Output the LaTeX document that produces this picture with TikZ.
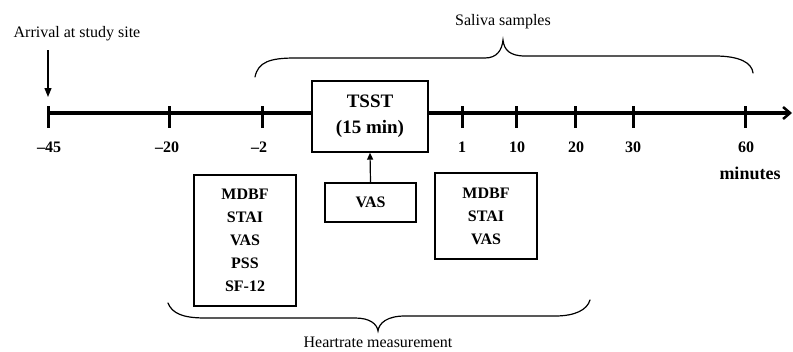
\documentclass[tikz,border=0pt]{standalone}
\usepackage{fontspec}
\setmainfont{Liberation Serif}
\usetikzlibrary{arrows.meta}
\begin{document}
\begin{tikzpicture}[x=1pt,y=-1pt,
  lbl/.style={font=\fontsize{16}{19}\selectfont\bfseries,inner sep=0pt},
  txt/.style={font=\fontsize{16}{19}\selectfont,inner sep=0pt},
  mbox/.style={draw,line width=1.4pt,fill=white,align=center,inner sep=0pt,
    font=\fontsize{16}{23}\selectfont\bfseries},
  tick/.style={line width=3pt},
  axis/.style={line width=4pt},
  brace/.style={line width=1.2pt,line cap=round}
]
\useasboundingbox (0,0) rectangle (793,351);
% axis
\coordinate (a0) at (48,113);
\coordinate (aend) at (792,113);
\node[mbox,minimum width=116pt,minimum height=71pt,
  font=\fontsize{19}{26}\selectfont\bfseries] (tsst) at (370,116.5) {TSST\\(15 min)};
\draw[axis] (a0) -- (tsst.west |- a0);
\draw[axis,-{Straight Barb[length=7pt,width=12pt,line width=2.5pt]}] (tsst.east |- a0) -- (aend);
% ticks
\foreach \x/\n in {48/m45,169/m20,262/m2,462/p1,516/p10,575/p20,633/p30,745/p60}{
  \draw[tick] (\x,106) -- (\x,128);
}
\node[lbl] (lm45) at (49,147) {–45};
\node[lbl] (lm20) at (167,147) {–20};
\node[lbl] (lm2) at (259,147) {–2};
\node[lbl] (lp1) at (462,147) {1};
\node[lbl] (lp10) at (517,147) {10};
\node[lbl] (lp20) at (576,147) {20};
\node[lbl] (lp30) at (633,147) {30};
\node[lbl] (lp60) at (746,147) {60};
\node[lbl,font=\fontsize{18}{20}\selectfont\bfseries] (min) at (750,173) {minutes};
% arrival
\node[txt] (arr) at (77,34) {Arrival at study site};
\coordinate (arrend) at (48,97);
\draw[line width=1.2pt,-{Triangle[length=9pt,width=7pt]}] (48,50) -- (arrend);
% boxes
\node[mbox,minimum width=102pt,minimum height=131pt] (pre) at (245,240.5) {MDBF\\STAI\\VAS\\PSS\\SF-12};
\node[mbox,minimum width=102pt,minimum height=86pt] (post) at (486,216) {MDBF\\STAI\\VAS};
\node[mbox,minimum width=91pt,minimum height=39pt] (vas) at (370.5,202.5) {VAS};
\draw[line width=1.2pt,-{Triangle[length=7pt,width=6pt]}] (vas.north) -- (tsst.south);
% saliva brace
\node[txt] (sal) at (503,22) {Saliva samples};
\draw[brace] (255,77) .. controls (258,62) and (270,58) .. (295,58) -- (485,58)
  .. controls (497,58) and (502,50) .. (503,40)
  .. controls (504,50) and (510,56) .. (525,56) -- (715,56)
  .. controls (740,56) and (752,63) .. (753,73);
% heartrate brace
\draw[brace] (168,303) .. controls (172,313) and (182,318) .. (205,318) -- (355,318)
  .. controls (370,318) and (377,324) .. (378,331)
  .. controls (379,323) and (387,316) .. (405,316) -- (555,316)
  .. controls (575,316) and (587,310) .. (590,300);
\node[txt] (hr) at (378,342) {Heartrate measurement};
\end{tikzpicture}
\end{document}
